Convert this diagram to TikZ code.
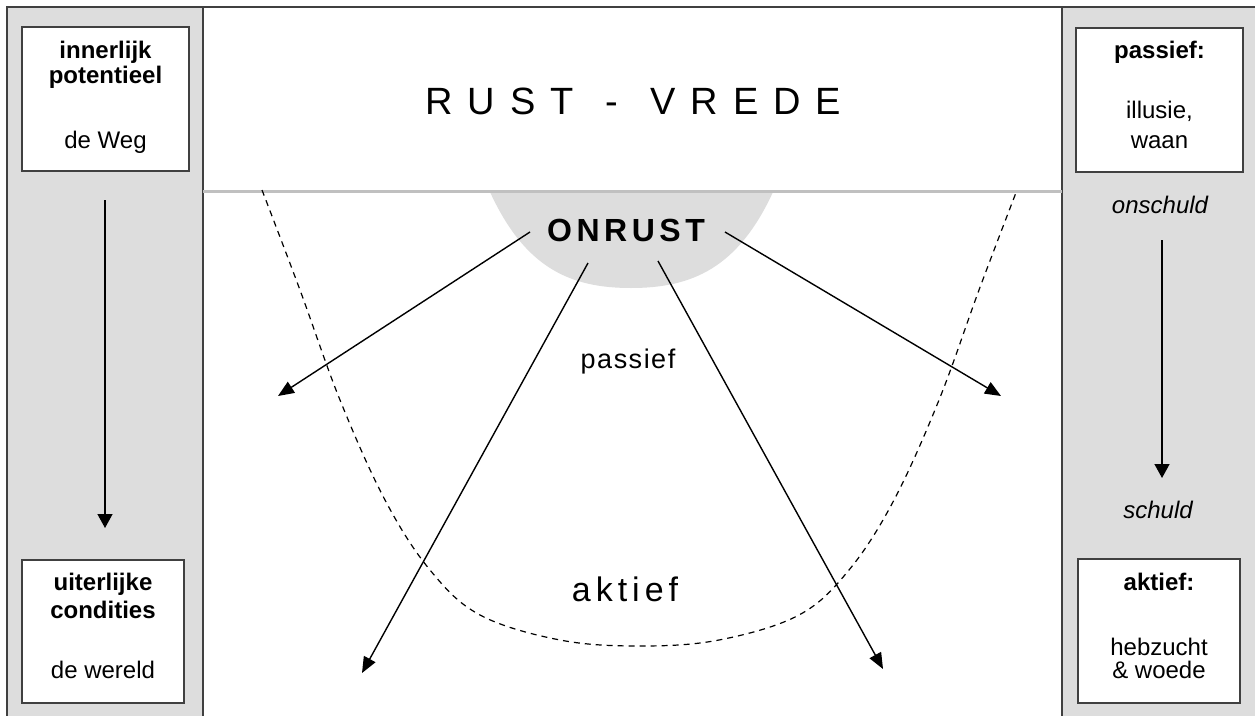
\documentclass[tikz,border=0pt]{standalone}
\usepackage{fontspec}
\setmainfont{Liberation Sans}
\usetikzlibrary{arrows.meta}
\definecolor{panelgray}{HTML}{DDDDDD}
\definecolor{framegray}{HTML}{404040}
\definecolor{rulegray}{HTML}{C0C0C0}
\newcommand\fsz[1]{\fontsize{#1}{#1}\selectfont}
\begin{document}
\begin{tikzpicture}[x=1pt,y=-1pt,
  panel/.style={fill=panelgray, draw=framegray, line width=1.5pt},
  box/.style={draw=framegray, fill=white, line width=1.5pt, inner sep=0pt},
  lbl/.style={anchor=base, inner sep=0pt, font=\fsz{24}},
  bold/.style={lbl, font=\fsz{24}\bfseries},
  side/.style={lbl, font=\fsz{24}\itshape},
  arr/.style={line width=1.4pt, -{Triangle[length=16pt,width=13pt]}},
  sidearr/.style={line width=1.4pt, -{Triangle[length=14pt,width=15pt]}},
  bowlcurve/.style={line width=1.2pt, dash pattern=on 6pt off 5pt}]
\useasboundingbox (0,0) rectangle (1255,715);
\fill[white] (0,0) rectangle (1255,715);

% side panels and frame
\draw[panel] (7,7) rectangle (203,730);
\draw[panel] (1062,7) rectangle (1270,730);
\draw[framegray, line width=1.5pt] (203,7) -- (1062,7);

% the bowl under the horizon line
\fill[panelgray] (490,192) .. controls (525,268) and (570,288) .. (631,288)
  .. controls (692,288) and (738,268) .. (773,192) -- cycle;
\draw[rulegray, line width=3pt] (203,191) -- (1062,191);

% left column
\node[box, minimum width=167pt, minimum height=144pt] (innerbox) at (105.5,99) {};
\node[bold] (inner1) at (105.5,58) {innerlijk};
\node[bold] (inner2) at (105.5,83) {potentieel};
\node[lbl] (inner3) at (105.5,148) {de Weg};
\node[box, minimum width=162pt, minimum height=143pt] (outerbox) at (103,631.5) {};
\node[bold] (outer1) at (103,590) {uiterlijke};
\node[bold] (outer2) at (103,618) {condities};
\node[lbl] (outer3) at (103,678) {de wereld};
\coordinate (lstart) at (105,200);
\coordinate (lend) at (105,528);
\draw[sidearr] (lstart) -- (lend);

% right column
\node[box, minimum width=167pt, minimum height=144pt] (passbox) at (1159.5,100) {};
\node[bold] (pass1) at (1159.5,58) {passief:};
\node[lbl] (pass2) at (1159.5,118) {illusie,};
\node[lbl] (pass3) at (1159.5,148) {waan};
\node[box, minimum width=162pt, minimum height=144pt] (aktbox) at (1159,631) {};
\node[bold] (akt1) at (1159,590) {aktief:};
\node[lbl] (akt2) at (1159,655) {hebzucht};
\node[lbl] (akt3) at (1159,678) {\&~woede};
\node[side] (onschuld) at (1160,213) {onschuld};
\node[side] (schuld) at (1158,518) {schuld};
\coordinate (rstart) at (1162,240);
\coordinate (rend) at (1162,478);
\draw[sidearr] (rstart) -- (rend);

% centre
\node[anchor=base west, inner sep=0pt, font=\fsz{38}] (rust) at (425,114)
  {R\kern15pt U\kern15pt S\kern15pt T\kern32pt -\kern32pt V\kern15pt R\kern15pt E\kern15pt D\kern15pt E};
\node[anchor=base west, inner sep=0pt, font=\fsz{32}\bfseries] (onrust) at (547,241)
  {O\kern4.5pt N\kern4.5pt R\kern4.5pt U\kern4.5pt S\kern4.5pt T};
\node[anchor=base, inner sep=0pt, font=\fsz{27}] (passief) at (628,368)
  {p\kern1.5pt a\kern1.5pt s\kern1.5pt s\kern1.5pt i\kern1.5pt e\kern1.5pt f};
\node[anchor=base, inner sep=0pt, font=\fsz{34}] (aktief) at (625,601)
  {a\kern5pt k\kern5pt t\kern5pt i\kern5pt e\kern5pt f};

% dashed boundary curve
\draw[bowlcurve] plot[smooth, tension=0.6] coordinates {
  (262,190) (300,290) (340,400) (385,500) (430,570) (480,615) (560,640)
  (639.5,646) (719,640) (799,615) (849,570) (894,500) (939,400) (979,290) (1017,190)};

% arrows out of ONRUST
\coordinate (a1s) at (530,232);
\coordinate (a2s) at (588,263);
\coordinate (a3s) at (658,261);
\coordinate (a4s) at (725,232);
\coordinate (a1e) at (278,396);
\coordinate (a2e) at (362,673);
\coordinate (a3e) at (883,669);
\coordinate (a4e) at (1001,396);
\draw[arr] (a1s) -- (a1e);
\draw[arr] (a2s) -- (a2e);
\draw[arr] (a3s) -- (a3e);
\draw[arr] (a4s) -- (a4e);
\end{tikzpicture}
\end{document}
